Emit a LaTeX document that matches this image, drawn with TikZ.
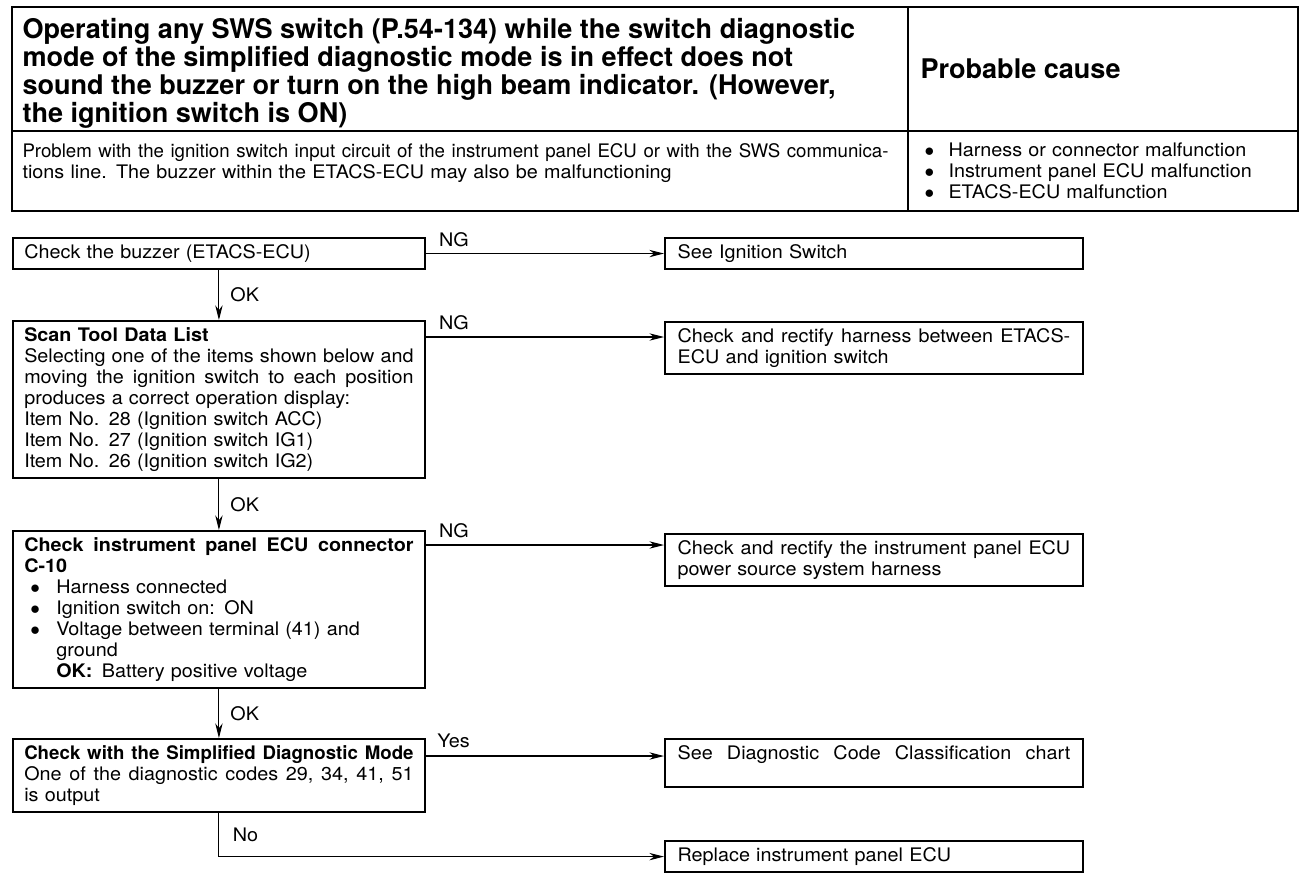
\documentclass[tikz,border=0pt]{standalone}
\usepackage{fontspec}
\setmainfont{TeX Gyre Heros}
\newfontfamily\widefont{TeX Gyre Heros}[FakeStretch=1.06]
\usetikzlibrary{arrows.meta}

\newcommand\fulline[2][292pt]{\makebox[#1][s]{\frenchspacing\spaceskip=0.278em plus 1fil\relax #2}}
\newcommand\dotitem{\hspace*{4.5pt}\makebox[19.5pt][l]{$\bullet$}}
\newcommand\subindent{\hspace*{24pt}}

\tikzset{every picture/.style={line width=0.75pt}}
\tikzset{
  stepbox/.style={draw, line width=1.4pt, anchor=north west, inner xsep=8.5pt, inner ysep=5pt,
    text width=292pt, align=left, font=\widefont\fontsize{14}{15.75}\selectfont},
  resultbox/.style={stepbox, inner xsep=9.5pt, text width=294.5pt},
  flow/.style={-{Stealth[length=11pt,width=5.5pt]}, line width=0.8pt},
  branchlbl/.style={anchor=south west, inner xsep=9.5pt, inner ysep=4.75pt, font=\widefont\fontsize{14}{15.75}\selectfont},
  oklbl/.style={anchor=west, inner xsep=8.25pt, inner ysep=1pt, font=\widefont\fontsize{14}{15.75}\selectfont},
}

\begin{document}
\begin{tikzpicture}[x=0.75pt,y=0.75pt,yscale=-1,xscale=1]
\useasboundingbox (0,0) rectangle (1312,884);

%Header frame
\draw [line width=1.5pt] (12,7) rectangle (1298,211);
\draw [line width=1.2pt] (12,131) -- (1298,131);
\draw [line width=1.2pt] (908,7) -- (908,211);

% Text Node
\node (title) [anchor=north west, inner sep=0pt, align=left, font=\fontsize{20.3}{21}\selectfont\bfseries] at (22,18)
  {Operating any SWS switch (P.54-134) while the switch diagnostic\\
   mode of the simplified diagnostic mode is in effect does not\\
   sound the buzzer or turn on the high beam indicator. (However,\\
   the ignition switch is ON)};
% Text Node
\node (causehead) [anchor=west, inner sep=0pt, font=\fontsize{20.3}{21}\selectfont\bfseries] at (920,69) {Probable cause};
% Text Node
\node (problem) [anchor=north west, inner sep=0pt, text width=649.5pt, align=left, font=\widefont\fontsize{14}{15.75}\selectfont] at (22,143)
  {\fulline[649.5pt]{\normalfont Problem with the ignition switch input circuit of the instrument panel ECU or with the SWS communica-}\\
   tions line. The buzzer within the ETACS-ECU may also be malfunctioning};
% Text Node
\node (causes) [anchor=north west, inner sep=0pt, text width=280pt, align=left, font=\widefont\fontsize{14}{15.75}\selectfont] at (924,142)
  {\makebox[18pt][l]{$\bullet$}Harness or connector malfunction\\
   \makebox[18pt][l]{$\bullet$}Instrument panel ECU malfunction\\
   \makebox[18pt][l]{$\bullet$}ETACS-ECU malfunction};

%Flow boxes
\node (buzzer) [stepbox] at (12,237) {Check the buzzer (ETACS-ECU)};
\node (seeign) [resultbox] at (664,237) {See Ignition Switch};

\node (scan) [stepbox] at (12,320)
  {\textbf{Scan Tool Data List}\\
   \fulline{Selecting one of the items shown below and}\\
   \fulline{moving the ignition switch to each position}\\
   produces a correct operation display:\\
   Item No. 28 (Ignition switch ACC)\\
   Item No. 27 (Ignition switch IG1)\\
   Item No. 26 (Ignition switch IG2)};
\node (harness) [resultbox] at (664,321)
  {\fulline[294.5pt]{Check and rectify harness between ETACS-}\\
   ECU and ignition switch};

\node (conn) [stepbox] at (12,530)
  {\fulline{\bfseries Check instrument panel ECU connector}\\
   \textbf{C-10}\\
   \dotitem Harness connected\\
   \dotitem Ignition switch on: ON\\
   \dotitem Voltage between terminal (41) and\\
   \subindent ground\\
   \subindent\textbf{OK:}\enspace Battery positive voltage};
\node (power) [resultbox] at (664,533)
  {\fulline[294.5pt]{Check and rectify the instrument panel ECU}\\
   power source system harness};

\node (simp) [stepbox] at (12,738)
  {\fulline{\normalfont\bfseries Check with the Simplified Diagnostic Mode}\\
   \fulline{One of the diagnostic codes 29, 34, 41, 51}\\
   is output};
\node (codechart) [resultbox] at (664,738)
  {\fulline[294.5pt]{See Diagnostic Code Classification chart}\\ \mbox{}};
\node (replace) [resultbox] at (664,840) {Replace instrument panel ECU};

%Connectors
\coordinate (ngscan) at ([yshift=12.75pt]scan.north east);
\coordinate (ngconn) at ([yshift=11.25pt]conn.north east);
\coordinate (yessimp) at ([yshift=13.5pt]simp.north east);

\draw [flow] (buzzer.east) -- node [branchlbl, pos=0] {NG} (buzzer.east -| seeign.west);
\draw [flow] (buzzer.south) -- node [oklbl] {OK} (scan.north);
\draw [flow] (ngscan) -- node [branchlbl, pos=0] {NG} (ngscan -| harness.west);
\draw [flow] (scan.south) -- node [oklbl] {OK} (conn.north);
\draw [flow] (ngconn) -- node [branchlbl, pos=0] {NG} (ngconn -| power.west);
\draw [flow] (conn.south) -- node [oklbl] {OK} (simp.north);
\draw [flow] (yessimp) -- node [branchlbl, pos=0, inner xsep=8.25pt, inner ysep=5.5pt] {Yes} (yessimp -| codechart.west);
\draw [flow] (simp.south) |- node [oklbl, pos=0.25, inner xsep=10pt] {No} (replace.west);

\end{tikzpicture}
\end{document}
